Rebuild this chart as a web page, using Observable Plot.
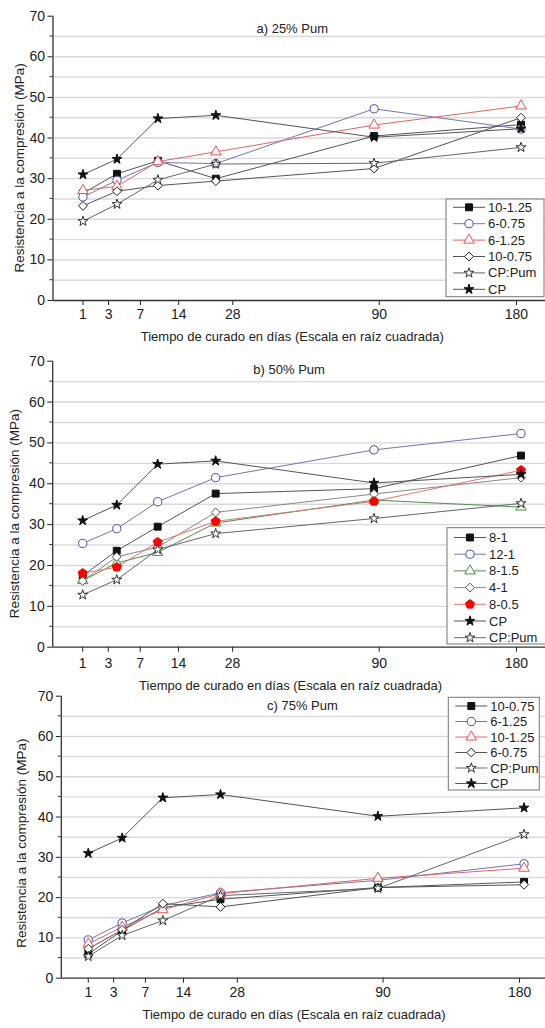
<!DOCTYPE html>
<html><head><meta charset="utf-8">
<script src="https://cdn.jsdelivr.net/npm/d3@7"></script>
<script src="https://cdn.jsdelivr.net/npm/@observablehq/plot@0.6"></script>
<style>
body{margin:0;background:#fff;}
#chart{width:545px;height:1028px;overflow:hidden;background:#fff;}
svg{display:block}
</style></head><body><div id="chart"></div>
<script>
// ---- data ----
// horizontal positions (days) at which the points are plotted in the original
const xPos = [1, 3.9, 9.9, 23.1, 87.2, 183.5];
const xTicks = [1, 3, 7, 14, 28, 90, 180];
const yTicks = [0, 10, 20, 30, 40, 50, 60, 70];
const yMinor = [5, 15, 25, 35, 45, 55, 65];
const gridVals = [5, 10, 15, 20, 25, 30, 35, 40, 45, 50, 55, 60, 65];

const titles = ["a) 25% Pum", "b) 50% Pum", "c) 75% Pum"];
const xTitle = "Tiempo de curado en días (Escala en raíz cuadrada)";
const yTitle = "Resistencia a la compresión (MPa)";

// panel a) 25% Pum
const aNames = ["10-1.25", "6-0.75", "6-1.25", "10-0.75", "CP:Pum", "CP"];
const a_10_125 = [26.4, 31.2, 34.4, 30.0, 40.5, 43.3];
const a_6_075  = [25.5, 29.6, 34.0, 33.7, 47.2, 42.2];
const a_6_125  = [27.1, 28.1, 34.2, 36.6, 43.2, 47.9];
const a_10_075 = [23.3, 26.9, 28.3, 29.4, 32.5, 45.0];
const a_CPPum  = [19.5, 23.7, 29.7, 33.6, 33.8, 37.7];
const a_CP     = [31.0, 34.8, 44.8, 45.6, 40.2, 42.3];

// panel b) 50% Pum
const bNames = ["8-1", "12-1", "8-1.5", "4-1", "8-0.5", "CP", "CP:Pum"];
const b_8_1   = [17.5, 23.6, 29.5, 37.6, 38.8, 46.9];
const b_12_1  = [25.4, 29.0, 35.6, 41.5, 48.3, 52.3];
const b_8_15  = [16.3, 20.6, 23.2, 30.4, 36.0, 34.3];
const b_4_1   = [16.2, 22.1, 24.5, 33.0, 37.5, 41.5];
const b_8_05  = [18.1, 19.6, 25.7, 30.8, 35.7, 43.3];
const b_CP    = [31.0, 34.8, 44.8, 45.6, 40.2, 42.3];
const b_CPPum = [12.8, 16.5, 23.9, 27.8, 31.5, 35.2];

// panel c) 75% Pum
const cNames = ["10-0.75", "6-1.25", "10-1.25", "6-0.75", "CP:Pum", "CP"];
const c_10_075 = [6.0, 11.8, 17.5, 19.6, 22.5, 23.9];
const c_6_125  = [9.5, 13.7, 18.0, 21.2, 24.3, 28.4];
const c_10_125 = [8.5, 12.7, 17.0, 21.0, 24.8, 27.3];
const c_6_075  = [7.3, 12.0, 18.5, 17.7, 22.5, 23.2];
const c_CPPum  = [5.4, 10.6, 14.3, 20.5, 22.3, 35.7];
const c_CP     = [31.0, 34.8, 44.8, 45.6, 40.2, 42.3];

// ---- styles ----
const pentagon = {draw(ctx, size) {
  const r = Math.sqrt(size / 2.3776);
  for (let k = 0; k < 5; k++) {
    const a = -Math.PI / 2 + k * 2 * Math.PI / 5;
    const px = r * Math.cos(a), py = r * Math.sin(a);
    if (k === 0) ctx.moveTo(px, py); else ctx.lineTo(px, py);
  }
  ctx.closePath();
}};
const ST = {
  sq:   {symbol: d3.symbolSquare,   fill: "#111", stroke: "#111", line: "#555", r: 3.9},
  circ: {symbol: d3.symbolCircle,   fill: "#fff", stroke: "#4d4dab", line: "#7474b4", r: 4.1},
  triR: {symbol: d3.symbolTriangle, fill: "#fff", stroke: "#e5514f", line: "#e06565", r: 3.9},
  triG: {symbol: d3.symbolTriangle, fill: "#fff", stroke: "#3f9a3f", line: "#4f8f4f", r: 3.9},
  dia:  {symbol: d3.symbolDiamond2, fill: "#fff", stroke: "#222", line: "#555", r: 4.0},
  diaG: {symbol: d3.symbolDiamond2, fill: "#fff", stroke: "#555", line: "#888", r: 4.0},
  penR: {symbol: pentagon,          fill: "#f00", stroke: "#e00", line: "#d77", r: 4.1},
  starO:{symbol: d3.symbolStar,     fill: "#fff", stroke: "#333", line: "#666", r: 3.1},
  starF:{symbol: d3.symbolStar,     fill: "#111", stroke: "#111", line: "#555", r: 3.1}
};

const panels = [
  {title: titles[0], names: aNames, values: [a_10_125, a_6_075, a_6_125, a_10_075, a_CPPum, a_CP],
   styles: [ST.sq, ST.circ, ST.triR, ST.dia, ST.starO, ST.starF],
   height: 342, mt: 15.7, mb: 42, ml: 52.5, xdom: [0.02, 203],
   tdx: -7, tdy: 12.6, pad: 4, xtdx: -7, xtdy: 36.7, ytdx: -33.5, ytdy: 9.5,
   leg: {x: 446, y: 199, w: 98, h: 97.7, first: 8.3, step: 16.4}},
  {title: titles[1], names: bNames, values: [b_8_1, b_12_1, b_8_15, b_4_1, b_8_05, b_CP, b_CPPum],
   styles: [ST.sq, ST.circ, ST.triG, ST.diaG, ST.penR, ST.starF, ST.starO],
   height: 348, mt: 18.7, mb: 43.3, ml: 52.2, xdom: [0.02, 203],
   tdx: -10, tdy: 8.7, pad: 5.6, xtdx: -8.5, xtdy: 38.3, ytdx: -38, ytdy: 9.5,
   leg: {x: 447, y: 185.7, w: 99, h: 116.3, first: 9.8, step: 16.7}},
  {title: titles[2], names: cNames, values: [c_10_075, c_6_125, c_10_125, c_6_075, c_CPPum, c_CP],
   styles: [ST.sq, ST.circ, ST.triR, ST.dia, ST.starO, ST.starF],
   height: 338, mt: 5.7, mb: 50.3, ml: 60.8, xdom: [0.05, 200.6],
   tdx: -1, tdy: 9.3, pad: 4.3, xtdx: -9.4, xtdy: 36.6, ytdx: -39.8, ytdy: 6,
   leg: {x: 448.3, y: 7.3, w: 91, h: 92.7, first: 8.7, step: 15.5}}
];

const FONT = "'Liberation Sans', Arial, Helvetica, sans-serif";
const chart = document.getElementById("chart");
const txt = {textAnchor: "middle", lineAnchor: "middle", fill: "#222"};

for (const p of panels) {
  const marks = [
    Plot.ruleY(gridVals, {stroke: "#d9d9d9", strokeWidth: 1.4}),
    Plot.ruleY([0], {stroke: "#333", strokeWidth: 1.3}),
    Plot.ruleX([p.xdom[0]], {y1: 0, y2: 70, stroke: "#333", strokeWidth: 1.3})
  ];
  p.values.forEach((vals, i) => {
    const s = p.styles[i];
    const data = xPos.map((x, j) => ({x, y: vals[j]}));
    marks.push(Plot.line(data, {x: "x", y: "y", stroke: s.line, strokeWidth: 1}));
    marks.push(Plot.dot(data, {x: "x", y: "y", symbol: s.symbol, r: s.r, fill: s.fill, stroke: s.stroke, strokeWidth: 1}));
  });
  marks.push(Plot.text([p.title], {...txt, frameAnchor: "top", dx: p.tdx, dy: p.tdy, text: d => d, fontSize: 13}));
  marks.push(Plot.text([xTitle], {...txt, frameAnchor: "bottom", dx: p.xtdx, dy: p.xtdy, text: d => d, fontSize: 13}));
  marks.push(Plot.text([yTitle], {...txt, frameAnchor: "left", dx: p.ytdx, dy: p.ytdy, rotate: -90, text: d => d, fontSize: 13.5}));

  const svg = Plot.plot({
    width: 545, height: p.height,
    marginLeft: p.ml, marginRight: 0, marginTop: p.mt, marginBottom: p.mb,
    style: {fontFamily: FONT, fontSize: "14px", color: "#222", background: "#fff", overflow: "visible"},
    x: {type: "sqrt", domain: p.xdom, ticks: xTicks, tickSize: 5, tickPadding: p.pad, label: null},
    y: {domain: [0, 70], ticks: yTicks, tickSize: 5, tickPadding: 3, label: null},
    marks
  });
  chart.appendChild(svg);

  // minor y ticks through the plot's own y scale
  const ys = svg.scale ? svg.scale("y") : null;
  if (ys && ys.apply) {
    const gm = d3.select(svg).append("g").attr("stroke", "#333").attr("stroke-width", 1);
    yMinor.forEach(v => {
      const yy = ys.apply(v);
      gm.append("line").attr("x1", p.ml - 3).attr("x2", p.ml).attr("y1", yy).attr("y2", yy);
    });
  }

  // legend box drawn inside the plot area
  const L = p.leg;
  const g = d3.select(svg).append("g").attr("font-family", FONT).attr("font-size", 13).attr("text-anchor", "start");
  g.append("rect").attr("x", L.x).attr("y", L.y).attr("width", L.w).attr("height", L.h)
    .attr("fill", "#fff").attr("stroke", "#777").attr("stroke-width", 1);
  p.names.forEach((name, i) => {
    const s = p.styles[i];
    const yy = L.y + L.first + i * L.step;
    g.append("line").attr("x1", L.x + 7).attr("x2", L.x + 39).attr("y1", yy).attr("y2", yy)
      .attr("stroke", s.line).attr("stroke-width", 1);
    g.append("path").attr("d", d3.symbol(s.symbol, Math.PI * s.r * s.r)())
      .attr("transform", `translate(${L.x + 23},${yy})`)
      .attr("fill", s.fill).attr("stroke", s.stroke).attr("stroke-width", 1);
    g.append("text").attr("x", L.x + 42).attr("y", yy).attr("dy", "0.35em")
      .attr("text-anchor", "start").attr("fill", "#222").text(name);
  });
}
</script></body></html>
